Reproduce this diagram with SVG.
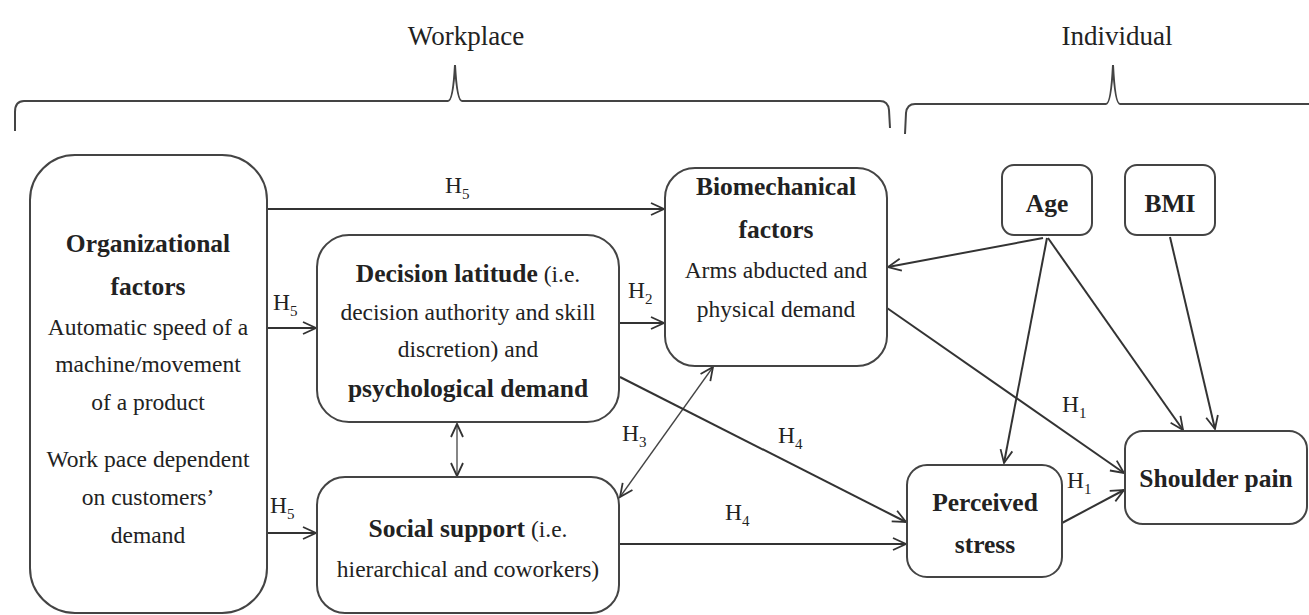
<svg xmlns="http://www.w3.org/2000/svg" width="1309" height="615" viewBox="0 0 1309 615">
<defs>
<style>
text{fill:#222;}
.r{font-size:23.5px;}
.b{font-size:25.5px;font-weight:bold;}
.h{font-size:23.5px;}
.s{font-size:15px;}
.hd{font-size:27px;}
.box{fill:#fff;stroke:#444;stroke-width:2;}
.ln{fill:none;stroke:#333;stroke-width:2;}
.thin{fill:none;stroke:#444;stroke-width:1.3;}
.br{fill:none;stroke:#444;stroke-width:2;}
</style>
<marker id="ah" markerUnits="userSpaceOnUse" viewBox="-15 -8 17 16" markerWidth="17" markerHeight="16" refX="0" refY="0" orient="auto-start-reverse" overflow="visible">
<path d="M-13,-6 L0,0 L-13,6" fill="none" stroke="#333" stroke-width="1.8"/>
</marker>
</defs>
<rect width="1309" height="615" fill="#fff"/>
<g font-family="Liberation Serif, DejaVu Serif, serif">

<g id="headers">
<text class="hd" x="466" y="45" text-anchor="middle">Workplace</text>
<text class="hd" x="1117" y="45" text-anchor="middle">Individual</text>
<path class="br" d="M15,131 L15,112 Q15,101 24,101 L448,101 Q453,101 455,65 Q457,101 462,101 L880,101 Q888,101 889,110 L890,128"/>
<path class="br" d="M905,134 L906,113 Q907,104 915,104 L1106,104 Q1111,104 1113,65 Q1115,104 1120,104 L1309,104"/>
</g>

<g id="connectors">
<path class="ln" d="M267,209 L664,209" marker-end="url(#ah)"/>
<path class="ln" d="M267,328 L316,328" marker-end="url(#ah)"/>
<path class="ln" d="M267,533 L316,533" marker-end="url(#ah)"/>
<path class="ln" d="M619,323 L664,323" marker-end="url(#ah)"/>
<path class="thin" d="M457,424 L457,476" marker-start="url(#ah)" marker-end="url(#ah)"/>
<path class="thin" d="M620,497 L713,367" marker-start="url(#ah)" marker-end="url(#ah)"/>
<path class="ln" d="M620,377 L906,522" marker-end="url(#ah)"/>
<path class="ln" d="M620,544 L906,544" marker-end="url(#ah)"/>
<path class="ln" d="M1043,238 L888,267" marker-end="url(#ah)"/>
<path class="ln" d="M1047,238 L1004,463" marker-end="url(#ah)"/>
<path class="ln" d="M1048,238 L1183,430" marker-end="url(#ah)"/>
<path class="ln" d="M1170,237 L1215,429" marker-end="url(#ah)"/>
<path class="ln" d="M887,308 L1124,473" marker-end="url(#ah)"/>
<path class="ln" d="M1062,523 L1124,490" marker-end="url(#ah)"/>
<text class="h" x="445" y="193">H<tspan class="s" dy="6">5</tspan></text>
<text class="h" x="273" y="310">H<tspan class="s" dy="6">5</tspan></text>
<text class="h" x="270" y="513">H<tspan class="s" dy="6">5</tspan></text>
<text class="h" x="628" y="298">H<tspan class="s" dy="6">2</tspan></text>
<text class="h" x="622" y="441">H<tspan class="s" dy="6">3</tspan></text>
<text class="h" x="778" y="443">H<tspan class="s" dy="6">4</tspan></text>
<text class="h" x="725" y="520">H<tspan class="s" dy="6">4</tspan></text>
<text class="h" x="1062" y="412">H<tspan class="s" dy="6">1</tspan></text>
<text class="h" x="1067" y="488">H<tspan class="s" dy="6">1</tspan></text>
</g>

<g id="organizational">
<rect class="box" x="30" y="155" width="237" height="458" rx="45"/>
<text class="b" x="148" y="252" text-anchor="middle">Organizational</text>
<text class="b" x="148" y="295" text-anchor="middle">factors</text>
<text class="r" x="148" y="335" text-anchor="middle">Automatic speed of a</text>
<text class="r" x="148" y="372" text-anchor="middle">machine/movement</text>
<text class="r" x="148" y="410" text-anchor="middle">of a product</text>
<text class="r" x="148" y="467" text-anchor="middle">Work pace dependent</text>
<text class="r" x="148" y="505" text-anchor="middle">on customers’</text>
<text class="r" x="148" y="543" text-anchor="middle">demand</text>
</g>

<g id="decision">
<rect class="box" x="317" y="235" width="302" height="187" rx="32"/>
<text x="468" y="282" text-anchor="middle"><tspan class="b">Decision latitude</tspan><tspan class="r"> (i.e.</tspan></text>
<text class="r" x="468" y="320" text-anchor="middle">decision authority and skill</text>
<text class="r" x="468" y="357" text-anchor="middle">discretion) and</text>
<text class="b" x="468" y="397" text-anchor="middle">psychological demand</text>
</g>

<g id="social">
<rect class="box" x="317" y="477" width="302" height="136" rx="28"/>
<text x="468" y="537" text-anchor="middle"><tspan class="b">Social support</tspan><tspan class="r"> (i.e.</tspan></text>
<text class="r" x="468" y="577" text-anchor="middle">hierarchical and coworkers)</text>
</g>

<g id="biomechanical">
<rect class="box" x="665" y="168" width="222" height="198" rx="30"/>
<text class="b" x="776" y="195" text-anchor="middle">Biomechanical</text>
<text class="b" x="776" y="238" text-anchor="middle">factors</text>
<text class="r" x="776" y="278" text-anchor="middle">Arms abducted and</text>
<text class="r" x="776" y="317" text-anchor="middle">physical demand</text>
</g>

<g id="age">
<rect class="box" x="1002" y="165" width="90" height="70" rx="12"/>
<text class="b" x="1047" y="212" text-anchor="middle">Age</text>
</g>

<g id="bmi">
<rect class="box" x="1125" y="165" width="90" height="70" rx="12"/>
<text class="b" x="1170" y="212" text-anchor="middle">BMI</text>
</g>

<g id="perceived">
<rect class="box" x="907" y="465" width="155" height="112" rx="20"/>
<text class="b" x="985" y="511" text-anchor="middle">Perceived</text>
<text class="b" x="985" y="553" text-anchor="middle">stress</text>
</g>

<g id="shoulder">
<rect class="box" x="1125" y="431" width="182" height="93" rx="18"/>
<text class="b" x="1216" y="487" text-anchor="middle">Shoulder pain</text>
</g>
</g>
</svg>
